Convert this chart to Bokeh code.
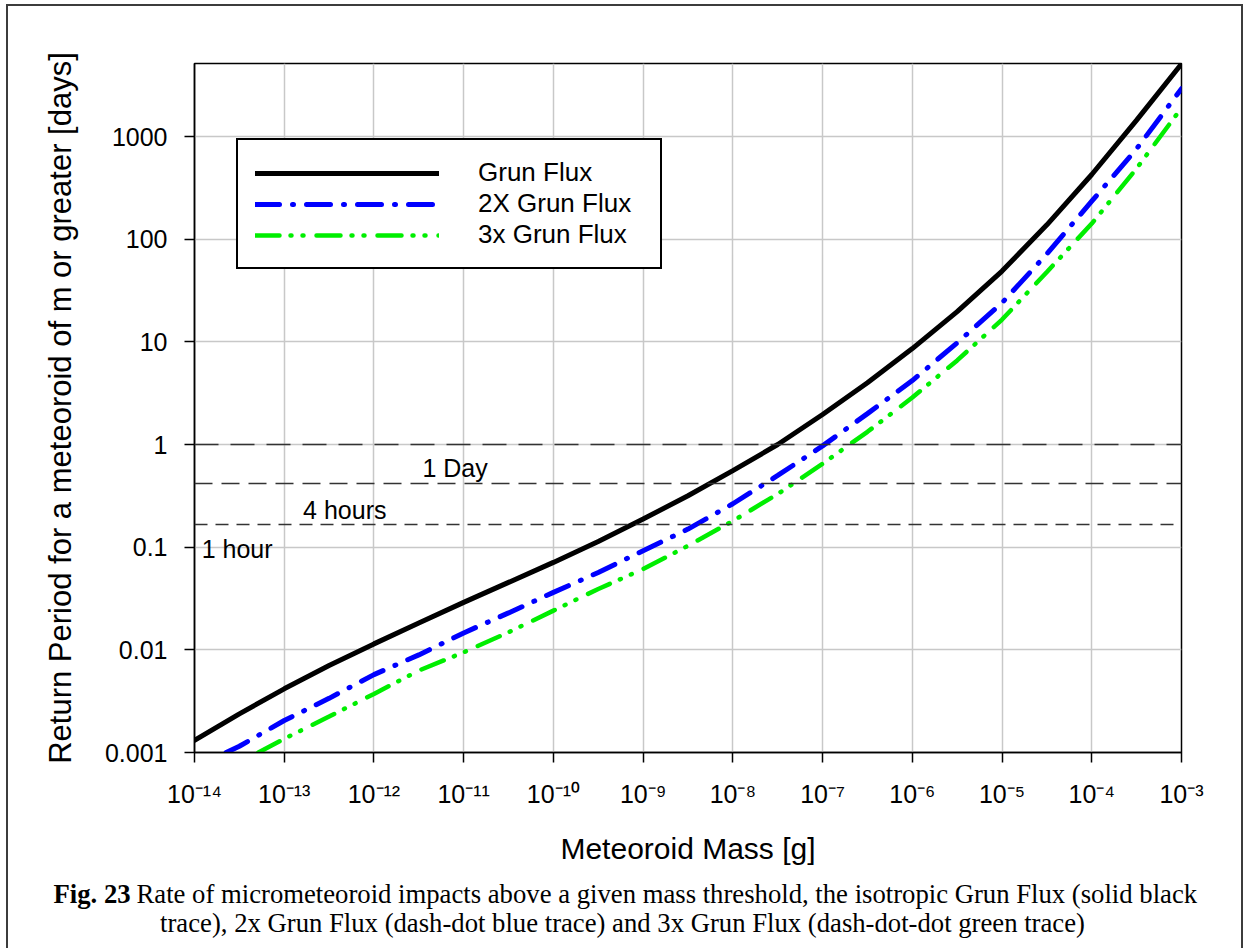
from bokeh.plotting import figure
from bokeh.layouts import column
from bokeh.models import Range1d, FixedTicker, Span, Label, Legend, LegendItem
from bokeh.embed import file_html
from bokeh.resources import INLINE

# ---- data -----------------------------------------------------------------
# log10 of meteoroid mass [g] and return period [days] for each trace
grun_log_mass = [-14, -13.5, -13, -12.5, -12, -11.5, -11, -10.5, -10, -9.5, -9,
                 -8.5, -8, -7.5, -7, -6.5, -6, -5.5, -5, -4.5, -4, -3.5, -3]
grun_days = [0.00131, 0.00238, 0.00417, 0.00703, 0.01143, 0.01828, 0.0290,
             0.0454, 0.0711, 0.1138, 0.188, 0.317, 0.557, 1.0, 1.96, 4.0, 8.6,
             19.7, 49.0, 138, 427, 1445, 5100]

grun2x_log_mass = [-13.647, -13.5, -13, -12.5, -12, -11.5, -11, -10.5, -10,
                   -9.5, -9, -8.5, -8, -7.5, -7, -6.5, -6, -5.5, -5, -4.5, -4,
                   -3.5, -3]
grun2x_days = [0.001, 0.00115, 0.00205, 0.00337, 0.00574, 0.00893, 0.01462,
               0.0229, 0.0363, 0.0567, 0.0925, 0.150, 0.265, 0.5, 0.97, 2.0,
               4.2, 9.8, 24, 72, 235, 760, 2930]

grun3x_log_mass = [-13.288, -13, -12.5, -12, -11.5, -11, -10.5, -10, -9.5, -9,
                   -8.5, -8, -7.5, -7, -6.5, -6, -5.5, -5, -4.5, -4, -3.5, -3]
grun3x_days = [0.001, 0.00136, 0.00224, 0.00372, 0.00628, 0.00946, 0.01483,
               0.0241, 0.0392, 0.0612, 0.1033, 0.180, 0.33, 0.65, 1.33, 2.87,
               6.6, 16.5, 48, 142, 490, 1900]

series_names = ["Grun Flux", "2X Grun Flux", "3x Grun Flux"]

# reference return periods [days]
ref_level_days = [1.0, 10 / 24, 4 / 24]
ref_level_labels = ["1 Day", "4 hours", "1 hour"]

# axis ticks
x_tick_exponents = list(range(-14, -2))
y_ticks = [0.001, 0.01, 0.1, 1.0, 10.0, 100.0, 1000.0]
y_tick_labels = ["0.001", "0.01", "0.1", "1", "10", "100", "1000"]

caption_bold = "Fig. 23"
caption_line1 = ("Rate of micrometeoroid impacts above a given mass threshold, "
                 "the isotropic Grun Flux (solid black")
caption_line2 = ("trace), 2x Grun Flux (dash-dot blue trace) and 3x Grun Flux "
                 "(dash-dot-dot green trace)")

SANS = "Liberation Sans"
SERIF = "Liberation Serif"

# ---- chart ----------------------------------------------------------------
p = figure(width=1233, height=863, x_axis_type="log", y_axis_type="log",
           x_range=Range1d(1e-14, 1e-3), y_range=Range1d(0.001, 5150),
           output_backend="svg", toolbar_location=None,
           min_border_left=186, min_border_right=60,
           min_border_top=57, min_border_bottom=117)
p.background_fill_color = "white"
p.border_fill_color = "white"
p.outline_line_color = "black"
p.outline_line_width = 1.5
p.frame_align = False

x_ticks = [10.0 ** e for e in x_tick_exponents]
p.xaxis.ticker = FixedTicker(ticks=x_ticks)
p.yaxis.ticker = FixedTicker(ticks=y_ticks)
p.xgrid.ticker = FixedTicker(ticks=x_ticks)
p.ygrid.ticker = FixedTicker(ticks=y_ticks)
for g in (p.xgrid, p.ygrid):
    g.grid_line_color = "#c8c8c8"
    g.grid_line_width = 1.5

for ax in (p.xaxis, p.yaxis):
    ax.axis_line_color = "black"
    ax.axis_line_width = 1.5
    ax.major_tick_line_color = "black"
    ax.major_tick_line_width = 1.5
    ax.major_tick_out = 10
    ax.major_tick_in = 0
    ax.minor_tick_line_color = None
    ax.axis_label_text_font = SANS
    ax.axis_label_text_font_style = "normal"
    ax.axis_label_text_color = "black"
    ax.major_label_text_font = SANS
    ax.major_label_text_color = "black"
    ax.major_label_text_font_size = "25px"

p.yaxis.major_label_overrides = dict(zip(y_ticks, y_tick_labels))
p.yaxis.major_label_standoff = 17
p.yaxis.axis_label = "Return Period for a meteoroid of m or greater [days]"
p.yaxis.axis_label_text_font_size = "31px"
p.yaxis.axis_label_standoff = 24

# mass ticks written as 10 with a superscript exponent
SUP = str.maketrans("-0123456789", "\u207b\u2070\u00b9\u00b2\u00b3\u2074\u2075\u2076\u2077\u2078\u2079")
p.xaxis.major_label_overrides = {t: "10" + str(e).translate(SUP)
                                 for e, t in zip(x_tick_exponents, x_ticks)}
p.xaxis.major_label_standoff = 17
p.xaxis.axis_label = "Meteoroid Mass [g]"
p.xaxis.axis_label_text_font_size = "30px"
p.xaxis.axis_label_standoff = 21

# ---- reference levels -----------------------------------------------------
ref_dashes = ["24 12", "18 9", "13 8"]
for level, dash in zip(ref_level_days, ref_dashes):
    p.add_layout(Span(location=level, dimension="width", line_color="#333333",
                      line_width=1.5, line_dash=dash))

ref_label_pos = [(-11.46, -0.227), (-12.79, -0.636), (-13.92, -1.015)]
for text, (lx, ly) in zip(ref_level_labels, ref_label_pos):
    p.add_layout(Label(x=10 ** lx, y=10 ** ly, text=text, text_font=SANS,
                       text_font_size="25px", text_color="black",
                       text_baseline="alphabetic", text_align="left"))

# ---- traces ---------------------------------------------------------------
def masses(log_list):
    return [10.0 ** v for v in log_list]

r3 = p.line(masses(grun3x_log_mass), grun3x_days, line_color="#00ee00",
            line_width=4.5, line_dash="24 11 1 11 1 13", line_cap="round")
r2 = p.line(masses(grun2x_log_mass), grun2x_days, line_color="#0000ff",
            line_width=5, line_dash="24 13 1 13", line_cap="round")
r1 = p.line(masses(grun_log_mass), grun_days, line_color="black",
            line_width=5, line_cap="round")

legend = Legend(items=[LegendItem(label=series_names[0], renderers=[r1]),
                       LegendItem(label=series_names[1], renderers=[r2]),
                       LegendItem(label=series_names[2], renderers=[r3])],
                location=(42, 483), margin=0, padding=17, spacing=0,
                glyph_width=184, glyph_height=28, label_height=28,
                label_width=165, label_standoff=39,
                label_text_font=SANS, label_text_font_size="26px",
                label_text_color="black",
                border_line_color="black", border_line_width=2,
                border_line_alpha=1,
                background_fill_color="white", background_fill_alpha=1)
p.add_layout(legend)

# ---- caption strip --------------------------------------------------------
cap = figure(width=1233, height=79, x_range=(0, 1), y_range=(0, 1),
             x_axis_location=None, y_axis_location=None,
             output_backend="svg", toolbar_location=None, min_border=0)
cap.frame_align = False
cap.outline_line_color = None
cap.background_fill_color = "white"
cap.border_fill_color = "white"
cap.grid.visible = False

CAP_SIZE = "26.7px"
cap.add_layout(Label(x=45, y=55, x_units="screen", y_units="screen",
                     text=caption_bold, text_font=SERIF, text_font_size=CAP_SIZE,
                     text_font_style="bold", text_color="black",
                     text_baseline="alphabetic"))
cap.add_layout(Label(x=128, y=55, x_units="screen", y_units="screen",
                     text=caption_line1, text_font=SERIF, text_font_size=CAP_SIZE,
                     text_color="black", text_baseline="alphabetic"))
cap.add_layout(Label(x=614, y=26, x_units="screen", y_units="screen",
                     text=caption_line2, text_font=SERIF, text_font_size=CAP_SIZE,
                     text_color="black", text_baseline="alphabetic",
                     text_align="center"))

# page frame around chart and caption (open at the bottom)
frame_line = "2px solid #3c3c3c"
page = column(p, cap, spacing=0,
              styles={"margin-left": "6px", "margin-top": "4px",
                      "border-left": frame_line, "border-top": frame_line,
                      "border-right": frame_line})

open("out.html", "w").write(file_html(page, INLINE))
